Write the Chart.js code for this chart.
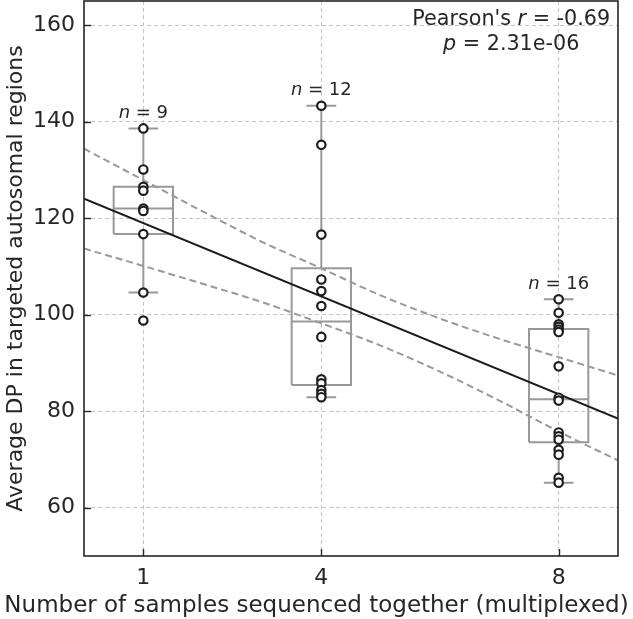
<!DOCTYPE html>
<html><head><meta charset="utf-8">
<script src="https://cdn.jsdelivr.net/npm/chart.js@4.4.1/dist/chart.umd.min.js"></script>
<style>html,body{margin:0;padding:0;background:#fff;}#wrap{width:633px;height:619px;position:relative;}</style>
</head><body><div id="wrap"><canvas id="c"></canvas></div>
<script>
// ---- data ----
const groupX = [1, 4, 8];
const values1 = [138.6, 130.1, 126.5, 125.7, 122.0, 121.5, 116.7, 104.6, 98.8];
const values4 = [143.3, 135.2, 116.6, 107.3, 104.9, 101.8, 95.4, 86.6, 85.8, 84.4, 83.6, 82.9];
const values8 = [103.2, 100.4, 98.0, 97.5, 96.9, 96.4, 89.3, 82.8, 82.2, 75.6, 74.8, 74.1, 72.0, 71.0, 66.2, 65.2];
const xTicks = [1, 4, 8];
const yTicks = [60, 80, 100, 120, 140, 160];
const fitX = [0, 9];
const fitY = [124.05, 78.45];
const ciX = [0, 1, 2, 3, 4, 5, 6, 7, 8, 9];
const ciUpper = [134.4, 127.9, 121.4, 115.1, 109.6, 104.0, 99.2, 95.0, 91.2, 87.4];
const ciLower = [113.7, 110.1, 106.4, 102.6, 98.2, 93.6, 88.2, 82.2, 75.8, 69.8];
const pearsonR = '-0.69';
const pearsonP = '2.31e-06';
const xTitle = 'Number of samples sequenced together (multiplexed)';
const yTitle = 'Average DP in targeted autosomal regions';

const groups = [values1, values4, values8];
const FONT = "'DejaVu Sans', sans-serif";
const TXT = '#262626';
const BOXC = '#999999';

function quantile(arr, q) {
  const s = [...arr].sort((a, b) => a - b);
  const pos = (s.length - 1) * q, lo = Math.floor(pos), hi = Math.ceil(pos);
  return s[lo] + (s[hi] - s[lo]) * (pos - lo);
}
function stats(arr) {
  const q1 = quantile(arr, 0.25), med = quantile(arr, 0.5), q3 = quantile(arr, 0.75);
  const iqr = q3 - q1;
  const whi = Math.max(...arr.filter(v => v <= q3 + 1.5 * iqr));
  const wlo = Math.min(...arr.filter(v => v >= q1 - 1.5 * iqr));
  return {q1, med, q3, whi, wlo};
}
const groupStats = groups.map(stats);

function boxPath(c, st) {
  const w = 0.5, cw = 0.25, gap = {x: c, y: null};
  return [
    {x: c - w, y: st.q1}, {x: c + w, y: st.q1}, {x: c + w, y: st.q3}, {x: c - w, y: st.q3}, {x: c - w, y: st.q1}, gap,
    {x: c - w, y: st.med}, {x: c + w, y: st.med}, gap,
    {x: c, y: st.q3}, {x: c, y: st.whi}, gap,
    {x: c, y: st.q1}, {x: c, y: st.wlo}, gap,
    {x: c - cw, y: st.whi}, {x: c + cw, y: st.whi}, gap,
    {x: c - cw, y: st.wlo}, {x: c + cw, y: st.wlo}
  ];
}

const datasets = [];
groups.forEach((vals, i) => {
  datasets.push({
    data: vals.map(v => ({x: groupX[i], y: v})),
    showLine: false, pointRadius: 4.2, pointBorderWidth: 2.2,
    pointBorderColor: '#1e1e1e', pointBackgroundColor: '#ffffff', order: 0
  });
});
datasets.push({
  data: fitX.map((x, i) => ({x, y: fitY[i]})),
  showLine: true, pointRadius: 0, borderColor: '#1a1a1a', borderWidth: 2, order: 1
});
[ciUpper, ciLower].forEach(arr => {
  datasets.push({
    data: ciX.map((x, i) => ({x, y: arr[i]})),
    showLine: true, pointRadius: 0, borderColor: BOXC, borderWidth: 2,
    borderDash: [7, 4], cubicInterpolationMode: 'monotone', order: 2
  });
});
groupStats.forEach((st, i) => {
  datasets.push({
    data: boxPath(groupX[i], st), showLine: true, spanGaps: false,
    pointRadius: 0, borderColor: BOXC, borderWidth: 2, order: 3
  });
});

function drawMixed(ctx, parts, cx, cy, size) {
  let total = 0;
  parts.forEach(p => { ctx.font = (p[1] ? 'italic ' : '') + size + 'px ' + FONT; p.w = ctx.measureText(p[0]).width; total += p.w; });
  let x = cx - total / 2;
  ctx.textBaseline = 'middle'; ctx.textAlign = 'left'; ctx.fillStyle = TXT;
  parts.forEach(p => { ctx.font = (p[1] ? 'italic ' : '') + size + 'px ' + FONT; ctx.fillText(p[0], x, cy); x += p.w; });
}

const deco = {
  id: 'deco',
  afterDraw(chart) {
    const {ctx, chartArea: a, scales: {x, y}} = chart;
    ctx.save();
    ctx.strokeStyle = '#262626'; ctx.lineWidth = 1.6; ctx.setLineDash([]);
    ctx.strokeRect(a.left, a.top, a.right - a.left, a.bottom - a.top);
    ctx.lineWidth = 1.4;
    yTicks.forEach(v => { const py = Math.round(y.getPixelForValue(v)) + 0.5; ctx.beginPath(); ctx.moveTo(a.left, py); ctx.lineTo(a.left + 7, py); ctx.stroke(); });
    xTicks.forEach(v => { const px = Math.round(x.getPixelForValue(v)) + 0.5; ctx.beginPath(); ctx.moveTo(px, a.bottom); ctx.lineTo(px, a.bottom - 7); ctx.stroke(); });
    groups.forEach((vals, i) => {
      drawMixed(ctx, [['n', true], [' = ' + vals.length, false]], x.getPixelForValue(groupX[i]), y.getPixelForValue(groupStats[i].whi) - 15, 18);
    });
    const cx = a.left + 0.8 * (a.right - a.left);
    drawMixed(ctx, [["Pearson's ", false], ['r', true], [' = ' + pearsonR, false]], cx, a.top + 19, 20.7);
    drawMixed(ctx, [['p', true], [' = ' + pearsonP, false]], cx, a.top + 44, 20.7);
    ctx.font = '23px ' + FONT; ctx.fillStyle = TXT; ctx.textAlign = 'center'; ctx.textBaseline = 'middle';
    ctx.fillText(xTitle, chart.width / 2, 606);
    ctx.restore();
  }
};

new Chart(document.getElementById('c'), {
  type: 'scatter',
  data: {datasets},
  options: {
    responsive: true, maintainAspectRatio: false, animation: false,
    layout: {autoPadding: false, padding: {top: 1, right: 15, left: 0, bottom: 0}},
    plugins: {legend: {display: false}, tooltip: {enabled: false}},
    scales: {
      x: {
        type: 'linear', min: 0, max: 9,
        afterBuildTicks: s => { s.ticks = xTicks.map(v => ({value: v})); },
        afterFit: s => { s.height = 63; s.paddingLeft = 0; s.paddingRight = 0; },
        grid: {color: '#c4c4c4', lineWidth: 1, drawTicks: false},
        border: {display: false, dash: [4, 3]},
        ticks: {padding: 9, autoSkip: false, maxRotation: 0, color: TXT, font: {family: FONT, size: 22}},
        title: {display: false}
      },
      y: {
        type: 'linear', min: 50, max: 165,
        afterBuildTicks: s => { s.ticks = yTicks.map(v => ({value: v})); },
        afterFit: s => { s.width = 84; s.paddingTop = 0; s.paddingBottom = 0; },
        grid: {color: '#c4c4c4', lineWidth: 1, drawTicks: false},
        border: {display: false, dash: [4, 3]},
        ticks: {padding: 9, color: TXT, font: {family: FONT, size: 22}},
        title: {display: true, text: yTitle, color: TXT, font: {family: FONT, size: 22}, padding: {top: 3, bottom: 0}}
      }
    }
  },
  plugins: [deco]
});
</script></body></html>
